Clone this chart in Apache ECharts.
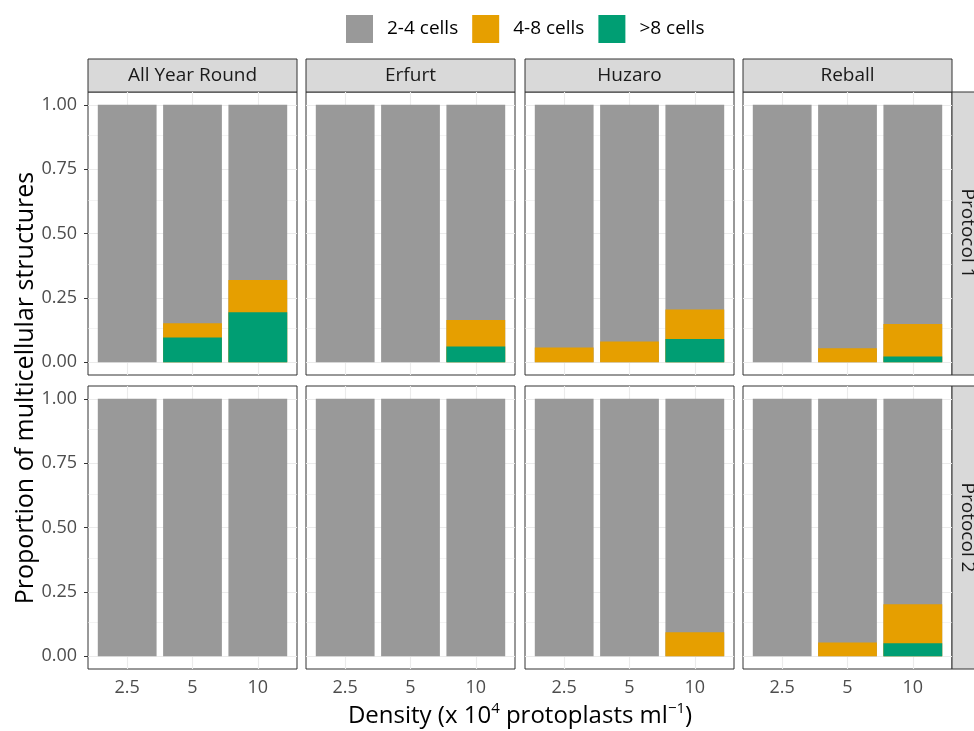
<!DOCTYPE html>
<html>
<head>
<meta charset="utf-8">
<script src="https://cdn.jsdelivr.net/npm/echarts@6/dist/echarts.min.js"></script>
<style>
  html, body { margin: 0; padding: 0; background: #fff; }
  #chart { width: 974px; height: 731px; }
</style>
</head>
<body>
<div id="chart"></div>
<script>
// facets and categories
const facets = ['All Year Round', 'Erfurt', 'Huzaro', 'Reball'];
const protocols = ['Protocol 1', 'Protocol 2'];
const densities = ['2.5', '5', '10'];
const groupNames = ['2-4 cells', '4-8 cells', '>8 cells'];
const yTicks = [0, 0.25, 0.5, 0.75, 1];

// proportions, one row per facet, values for densities 2.5 / 5 / 10
const over8P1 = [[0, 0.096, 0.194], [0, 0, 0.061], [0, 0, 0.090], [0, 0, 0.022]];
const cells48P1 = [[0, 0.055, 0.125], [0, 0, 0.103], [0.057, 0.080, 0.115], [0, 0.054, 0.126]];
const over8P2 = [[0, 0, 0], [0, 0, 0], [0, 0, 0], [0, 0, 0.050]];
const cells48P2 = [[0, 0, 0], [0, 0, 0], [0, 0, 0.093], [0, 0.053, 0.152]];

const colors = { '2-4 cells': '#999999', '4-8 cells': '#E69F00', '>8 cells': '#009E73' };
const font = '"Open Sans", "Noto Sans", sans-serif';

const panelLeft = [88, 306, 525, 743];
const panelW = 209;
const rowTop = [92, 386];
const panelH = 283;
const unitPx = panelW / 3.2;

const grids = [], xAxes = [], yAxes = [], series = [], graphics = [];

protocols.forEach(function (prot, r) {
    const over8 = r === 0 ? over8P1 : over8P2;
    const c48 = r === 0 ? cells48P1 : cells48P2;
    facets.forEach(function (fac, c) {
        const idx = r * 4 + c;
        grids.push({
            left: panelLeft[c], top: rowTop[r], width: panelW, height: panelH,
            show: true, borderColor: '#333333', borderWidth: 1, backgroundColor: '#fff'
        });
        xAxes.push({
            gridIndex: idx, type: 'value', min: 0.4, max: 3.6,
            axisLine: { show: false },
            splitLine: { show: false },
            axisTick: { show: r === 1, length: 4, lineStyle: { color: '#333333' }, customValues: [1, 2, 3] },
            axisLabel: {
                show: r === 1, customValues: [1, 2, 3], margin: 10,
                color: '#4D4D4D', fontSize: 18, fontFamily: font,
                formatter: function (v) { return densities[Math.round(v) - 1]; }
            }
        });
        yAxes.push({
            gridIndex: idx, type: 'value', min: -0.05, max: 1.05,
            axisLine: { show: false },
            splitLine: { show: false },
            axisTick: { show: c === 0, length: 4, lineStyle: { color: '#333333' }, customValues: yTicks },
            axisLabel: {
                show: c === 0, customValues: yTicks, margin: 11,
                color: '#4D4D4D', fontSize: 18, fontFamily: font,
                formatter: function (v) { return v.toFixed(2); }
            }
        });

        // background grid lines
        const hl = [];
        for (let k = 0; k <= 8; k++) {
            hl.push({ yAxis: k * 0.125, lineStyle: { color: '#EBEBEB', width: k % 2 === 0 ? 1.1 : 0.6, type: 'solid' } });
        }
        [1, 2, 3].forEach(function (x) {
            hl.push({ xAxis: x, lineStyle: { color: '#EBEBEB', width: 1.1, type: 'solid' } });
        });
        series.push({
            type: 'line', xAxisIndex: idx, yAxisIndex: idx, data: [], silent: true,
            markLine: { silent: true, symbol: 'none', label: { show: false }, animation: false, data: hl }
        });

        // cumulative heights: each group drawn from 0 up to its stacked top, later ones on top
        const tops = {
            '>8 cells': over8[c],
            '4-8 cells': over8[c].map(function (v, i) { return v + c48[c][i]; }),
            '2-4 cells': over8[c].map(function () { return 1; })
        };
        groupNames.forEach(function (g) {
            series.push({
                name: g, type: 'bar', z: 10,
                xAxisIndex: idx, yAxisIndex: idx,
                barWidth: unitPx * 0.9, barGap: '-100%',
                itemStyle: { color: colors[g] },
                data: tops[g].map(function (v, i) { return [i + 1, v]; })
            });
        });
    });
});

// strips
facets.forEach(function (fac, c) {
    graphics.push({
        type: 'rect', shape: { x: panelLeft[c], y: 59, width: panelW, height: 33 },
        style: { fill: '#D9D9D9', stroke: '#333333', lineWidth: 1 }
    });
    graphics.push({
        type: 'text', x: panelLeft[c] + panelW / 2, y: 76,
        style: { text: fac, fill: '#1A1A1A', fontSize: 19, fontFamily: font, align: 'center', verticalAlign: 'middle' }
    });
});
protocols.forEach(function (prot, r) {
    graphics.push({
        type: 'rect', shape: { x: 952, y: rowTop[r], width: 34, height: panelH },
        style: { fill: '#D9D9D9', stroke: '#333333', lineWidth: 1 }
    });
    graphics.push({
        type: 'text', x: 967, y: rowTop[r] + panelH / 2, rotation: -Math.PI / 2,
        style: { text: prot, fill: '#1A1A1A', fontSize: 19, fontFamily: font, align: 'center', verticalAlign: 'middle' }
    });
});
// axis titles
graphics.push({
    type: 'text', x: 26, y: 388, rotation: Math.PI / 2,
    style: { text: 'Proportion of multicellular structures', fill: '#000', fontSize: 25, fontFamily: font, align: 'center', verticalAlign: 'middle' }
});
graphics.push({
    type: 'text', x: 520, y: 716,
    style: {
        text: 'Density (x 10{sup|4} protoplasts ml{sup|\u22121})',
        fill: '#000', fontSize: 24, fontFamily: font, align: 'center', verticalAlign: 'middle',
        rich: { sup: { fontSize: 15, fontFamily: font, fill: '#000', padding: [0, 0, 14, 0] } }
    }
});

const chart = echarts.init(document.getElementById('chart'), null, { renderer: 'canvas' });
chart.setOption({
    animation: false,
    backgroundColor: '#fff',
    textStyle: { fontFamily: font },
    legend: {
        data: groupNames, left: 341, top: 10,
        icon: 'rect', itemWidth: 27, itemHeight: 28, itemGap: 14,
        textStyle: { fontSize: 19, color: '#000', fontFamily: font, padding: [0, 0, 0, 9] }
    },
    grid: grids,
    xAxis: xAxes,
    yAxis: yAxes,
    series: series,
    graphic: graphics
});
</script>
</body>
</html>
